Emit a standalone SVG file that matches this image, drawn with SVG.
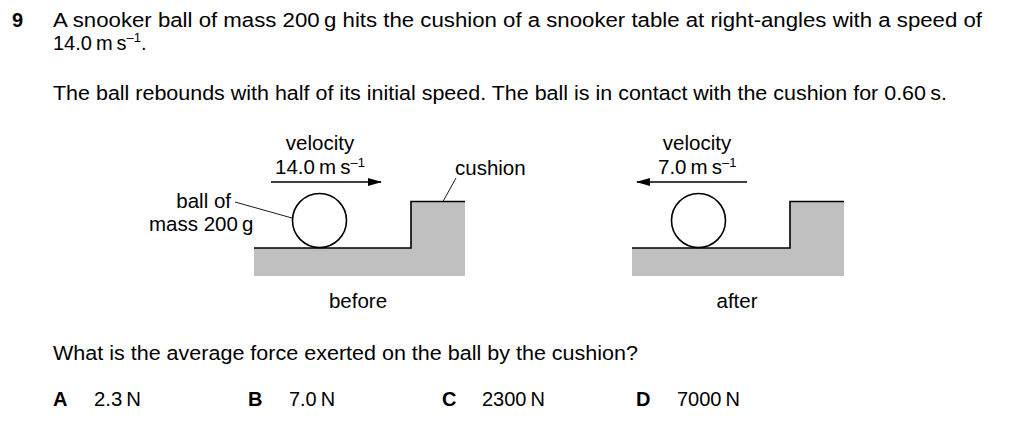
<svg xmlns="http://www.w3.org/2000/svg" width="1024" height="430" viewBox="0 0 1024 430">
<defs>
<style>
text{font-family:"Liberation Sans",Arial,sans-serif;fill:#000}
.q{font-size:20px}
.d{font-size:20.5px}
.b{font-weight:bold}
.sup{font-size:13px}
.table{fill:#c0c0c0;stroke:none}
.edge{fill:none;stroke:#000;stroke-width:1.6}
.ball{fill:#fff;stroke:#000;stroke-width:1.6}
.lead{stroke:#000;stroke-width:0.9;fill:none}
.arr{stroke:#000;stroke-width:1.6;fill:none}
</style>
<marker id="ah" viewBox="0 0 14 8" refX="13" refY="4" markerWidth="14" markerHeight="8" markerUnits="userSpaceOnUse" orient="auto">
<path d="M0,0 L14,4 L0,8 Z" fill="#000"/>
</marker>
</defs>
<rect width="1024" height="430" fill="#fff"/>

<g id="question-text">
<text class="q b" x="12" y="27">9</text>
<text class="q" x="53" y="27" textLength="929" lengthAdjust="spacingAndGlyphs">A snooker ball of mass 200&#8201;g hits the cushion of a snooker table at right-angles with a speed of</text>
<text class="q" x="53" y="50">14.0&#8201;m&#8201;s<tspan class="sup" dy="-8">–1</tspan><tspan dy="8">.</tspan></text>
<text class="q" x="53" y="100" textLength="894" lengthAdjust="spacingAndGlyphs">The ball rebounds with half of its initial speed. The ball is in contact with the cushion for 0.60&#8201;s.</text>
<text class="q" x="53" y="360" textLength="585" lengthAdjust="spacingAndGlyphs">What is the average force exerted on the ball by the cushion?</text>
</g>

<g id="before">
<path class="table" d="M254,248 H411 V201.5 H465 V276 H254 Z"/>
<path class="edge" d="M254,248 H411 V201.5 H465"/>
<circle class="ball" cx="319.5" cy="220.5" r="27"/>
<text class="d" x="320" y="150" text-anchor="middle">velocity</text>
<text class="d" x="275" y="174">14.0&#8201;m&#8201;s<tspan class="sup" dy="-7">–1</tspan></text>
<text class="d" x="231" y="208" text-anchor="end">ball of</text>
<text class="d" x="149" y="231">mass 200&#8201;g</text>
<text class="d" x="455" y="175">cushion</text>
<text class="d" x="358" y="308" text-anchor="middle">before</text>
</g>

<g id="after">
<path class="table" d="M632,248 H790 V201.5 H844 V276 H632 Z"/>
<path class="edge" d="M632,248 H790 V201.5 H844"/>
<circle class="ball" cx="698.5" cy="220.5" r="27"/>
<text class="d" x="697" y="150" text-anchor="middle">velocity</text>
<text class="d" x="658" y="174">7.0&#8201;m&#8201;s<tspan class="sup" dy="-7">–1</tspan></text>
<text class="d" x="737" y="308" text-anchor="middle">after</text>
</g>

<g id="connectors">
<line class="arr" x1="271" y1="182" x2="381" y2="182" marker-end="url(#ah)"/>
<line class="arr" x1="747" y1="182" x2="637" y2="182" marker-end="url(#ah)"/>
<line class="lead" x1="235" y1="202" x2="292" y2="218"/>
<line class="lead" x1="443" y1="201.5" x2="456" y2="178"/>
</g>

<g id="options">
<text class="q b" x="53" y="406">A</text>
<text class="q" x="94" y="406" textLength="47" lengthAdjust="spacingAndGlyphs">2.3&#8201;N</text>
<text class="q b" x="248" y="406">B</text>
<text class="q" x="289" y="406" textLength="46" lengthAdjust="spacingAndGlyphs">7.0&#8201;N</text>
<text class="q b" x="442" y="406">C</text>
<text class="q" x="482" y="406">2300&#8201;N</text>
<text class="q b" x="636" y="406">D</text>
<text class="q" x="677" y="406">7000&#8201;N</text>
</g>
</svg>
